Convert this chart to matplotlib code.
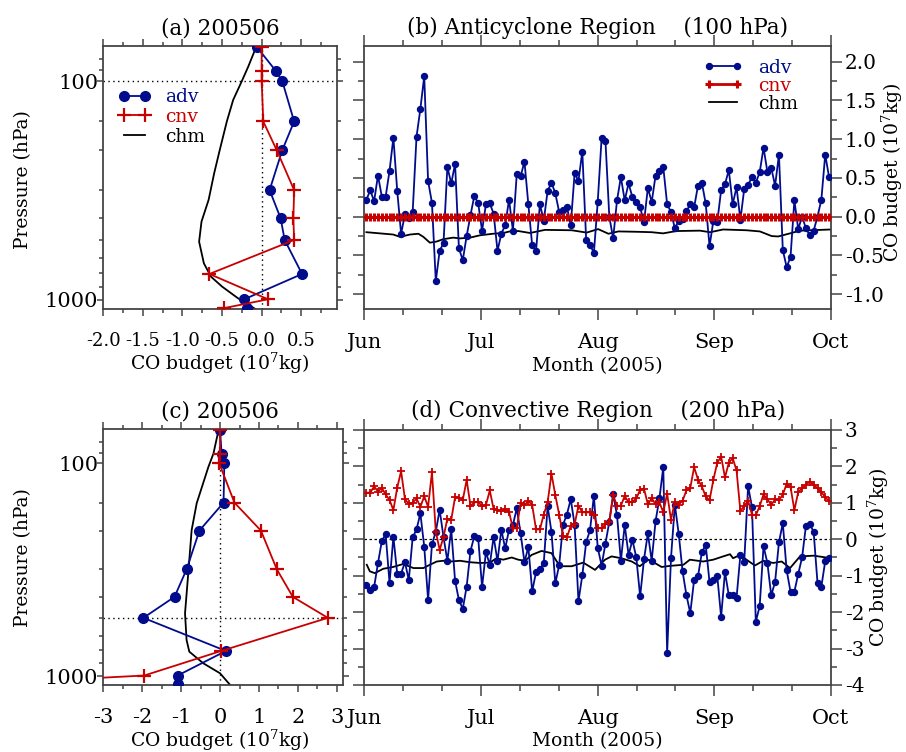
import numpy as np
import matplotlib
matplotlib.use("Agg")
import matplotlib.pyplot as plt
from matplotlib.ticker import FixedLocator, NullFormatter, FormatStrFormatter, MultipleLocator

plt.rcParams["font.family"] = "DejaVu Serif"
plt.rcParams["mathtext.fontset"] = "dejavuserif"
plt.rcParams["mathtext.default"] = "regular"
plt.rcParams["axes.unicode_minus"] = False

BLUE = "#000c8c"
RED = "#c80000"
FRAME = "#444444"

# ---- vertical profiles for June 2005 (pressure in hPa, budget in 10^7 kg)
levels = [70, 90, 100, 153, 207, 315, 424, 532, 761, 993, 1091]
adv_a = [-0.06, 0.18, 0.26, 0.41, 0.26, 0.10, 0.24, 0.29, 0.51, -0.22, -0.19]
cnv_a = [0.0, 0.0, 0.0, 0.02, 0.19, 0.41, 0.40, 0.41, -0.66, 0.08, -0.48]
chm_a_lev = [70, 86, 100, 122, 153, 207, 264, 349, 439, 542, 680, 783, 869, 982, 1100]
chm_a = [-0.07, -0.17, -0.25, -0.36, -0.44, -0.53, -0.60, -0.67, -0.76, -0.79,
         -0.73, -0.64, -0.50, -0.30, -0.08]

adv_c = [0.0, 0.04, 0.11, 0.09, -0.53, -0.86, -1.17, -1.97, 0.15, -1.09, -1.07]
cnv_c = [0.0, 0.0, -0.02, 0.37, 1.05, 1.46, 1.87, 2.77, 0.03, -1.95, -6.3]
chm_c_lev = [70, 90, 104, 154, 206, 317, 507, 676, 767, 870, 969, 1100]
chm_c = [-0.04, -0.17, -0.30, -0.60, -0.73, -0.81, -0.90, -0.86, -0.79, -0.43, 0.0, 0.26]

pressure_minor = [79, 89, 153, 207, 315, 424, 532, 645, 755, 870]

# ---- daily series Jun-Sep 2005
months = ["Jun", "Jul", "Aug", "Sep", "Oct"]

adv_b = [0.22, 0.34, 0.20, 0.53, 0.26, 0.26, 0.59, 1.02, 0.33, -0.22,
         0.03, -0.02, 0.06, 1.03, 1.39, 1.81, 0.46, 0.18, -0.83, -0.44,
         -0.34, 0.64, 0.43, 0.68, -0.41, -0.56, -0.25, 0.02, 0.27, 0.17,
         -0.18, 0.16, 0.17, 0.04, -0.44, -0.22, -0.11, 0.22, -0.18, 0.55,
         0.52, 0.71, 0.16, -0.37, -0.44, 0.16, -0.05, 0.33, 0.44, 0.30,
         0.06, 0.08, 0.13, -0.11, 0.56, 0.46, 0.84, -0.30, -0.36, -0.47,
         0.19, 1.01, 0.98, 0.0, -0.28, 0.21, 0.51, 0.21, 0.43, 0.25,
         0.19, 0.12, -0.07, 0.37, 0.19, 0.53, 0.59, 0.64, 0.16, 0.06,
         -0.15, -0.05, -0.03, 0.07, 0.16, 0.12, 0.40, 0.44, 0.17, -0.38,
         -0.05, -0.07, 0.34, 0.42, 0.60, 0.16, 0.38, -0.04, 0.36, 0.41,
         0.51, 0.44, 0.57, 0.89, 0.58, 0.63, 0.40, 0.80, -0.43, -0.65,
         -0.52, 0.21, -0.16, 0.0, -0.15, -0.24, -0.18, 0.0, 0.22, 0.80,
         0.51]
cnv_b = [0.0] * len(adv_b)
chm_b_day = [0.5, 4.0, 7.5, 9.3, 11.9, 14.1, 15.4, 17.1, 18.9, 20.6, 23.2, 25, 27.6,
             30.2, 33.6, 36.3, 38, 40.2, 43.3, 47.2, 54.2, 58.1, 61.1, 63.8, 66.4,
             71.6, 75.1, 78.1, 81.6, 87.7, 90.4, 93.8, 99.9, 103.4, 106.5, 108.2,
             111.3, 113.9, 122]
chm_b = [-0.20, -0.215, -0.23, -0.26, -0.23, -0.22, -0.26, -0.335, -0.32, -0.29,
         -0.27, -0.28, -0.27, -0.24, -0.22, -0.21, -0.19, -0.185, -0.21, -0.17,
         -0.175, -0.205, -0.16, -0.22, -0.19, -0.195, -0.20, -0.215, -0.185, -0.18,
         -0.20, -0.165, -0.175, -0.19, -0.25, -0.255, -0.215, -0.18, -0.165]

adv_d = [-1.26, -1.38, -1.31, -0.66, -0.05, 0.14, -1.20, 0.07, -0.95, -0.94,
         -0.63, -1.12, 0.05, 0.27, 0.71, -0.20, -1.66, -0.14, 0.21, 0.81,
         0.06, -0.59, 0.28, -1.14, -1.67, -1.91, -1.30, -0.32, 0.09, 0.03,
         -1.31, -0.35, -0.70, 0.07, -0.60, 0.26, -0.25, 0.26, 0.39, 0.85,
         0.16, -0.63, -0.21, -1.43, -0.90, -0.81, -0.66, 0.91, 0.21, -1.21,
         -0.71, 0.40, 0.68, 1.10, 0.40, -1.70, -0.99, -0.08, 0.25, 1.19,
         -0.23, -0.72, -0.12, 0.48, 1.23, 0.66, -0.59, 0.39, -0.43, -0.02,
         -0.50, -1.57, -0.55, 0.16, -0.59, 0.50, 1.12, 1.98, -3.12, -0.52,
         0.95, 0.15, -0.88, -1.53, -2.03, -1.11, -1.02, -0.36, -0.15, -1.18,
         -1.11, -1.00, -2.13, -0.90, -1.54, -1.54, -1.61, -0.43, -0.61, 1.46,
         0.88, -2.26, -1.84, -0.19, -0.65, -1.54, -1.17, -0.08, 0.44, -0.85,
         -1.44, -1.44, -0.95, -0.50, 0.37, 0.42, 0.20, -1.20, -1.30, -0.60,
         -0.52]
cnv_d = [1.28, 1.28, 1.45, 1.31, 1.41, 1.23, 1.08, 0.80, 1.42, 1.87,
         1.10, 0.97, 1.00, 1.12, 0.89, 1.18, 0.89, 1.84, 0.21, -0.29,
         0.06, 0.57, 0.53, 1.16, 1.14, 1.08, 1.63, 0.92, 1.01, 1.03,
         0.90, 0.94, 1.34, 0.83, 0.80, 0.77, 0.83, 0.75, 0.30, 0.30,
         1.00, 0.94, 1.05, 0.94, 0.27, 0.27, 0.68, 1.01, 1.80, 1.21,
         0.68, 0.09, 0.05, 0.37, 0.41, 0.92, 0.74, 0.74, 0.74, 0.68,
         0.32, 0.30, 0.41, 0.48, 1.21, 0.92, 0.92, 1.19, 1.01, 1.03,
         1.12, 1.36, 1.39, 0.96, 1.13, 0.96, 1.01, 0.74, 1.25, 0.54,
         1.03, 0.95, 1.06, 1.34, 1.41, 1.98, 1.64, 1.45, 1.18, 1.07,
         1.64, 2.10, 2.27, 1.70, 2.10, 2.23, 1.89, 0.77, 0.92, 1.06,
         0.68, 0.66, 0.91, 1.23, 1.10, 0.94, 1.10, 1.07, 1.23, 1.52,
         1.44, 0.80, 1.30, 1.40, 1.50, 1.58, 1.50, 1.40, 1.30, 1.15,
         1.05]
chm_d_day = [0.6, 1.4, 2.7, 4.9, 7.5, 10.1, 12.8, 15.4, 17.1, 18.9, 20.6, 22.4, 25,
             27.6, 30.2, 32.8, 34.5, 36.3, 38.5, 40.2, 42, 43.7, 46.3, 48.9, 51.1,
             54.2, 57.2, 60.3, 62.9, 64.6, 67.2, 69.9, 72.0, 74.2, 76.4, 77.7, 79.9,
             83.4, 85.1, 88.6, 91.2, 93.8, 95.6, 96.4, 98.2, 99.9, 102.1, 104.3,
             106.9, 109.1, 111.3, 113.9, 117.5, 122]
chm_d = [-0.70, -0.88, -0.93, -0.81, -0.76, -0.68, -0.79, -0.79, -0.70, -0.61,
         -0.59, -0.61, -0.59, -0.63, -0.65, -0.64, -0.52, -0.56, -0.50, -0.56,
         -0.59, -0.43, -0.32, -0.38, -0.74, -0.74, -0.64, -0.84, -0.56, -0.47,
         -0.52, -0.61, -0.74, -0.56, -0.68, -0.76, -0.73, -0.70, -0.56, -0.61,
         -0.56, -0.47, -0.41, -0.52, -0.43, -0.56, -0.72, -0.59, -0.65, -0.61,
         -0.79, -0.47, -0.45, -0.52]


def frame(ax):
    for sp in ax.spines.values():
        sp.set_color(FRAME)
        sp.set_linewidth(1.3)


def profile_panel(ax, adv, cnv, chm_lev, chm, xlim, xmajor, xminor, fmt, ref_level,
                  xsize, xpad):
    ax.axvline(0, color="k", lw=1.0, ls=(0, (1, 2.5)), zorder=1)
    ax.axhline(ref_level, color="k", lw=1.0, ls=(0, (1, 2.5)), zorder=1)
    l_chm, = ax.plot(chm, chm_lev, color="k", lw=1.3, label="chm", zorder=2)
    l_adv, = ax.plot(adv, levels, color=BLUE, lw=1.3, marker="o", ms=7, label="adv", zorder=3)
    l_cnv, = ax.plot(cnv, levels, color=RED, lw=1.3, marker="+", ms=10, mew=1.6,
                     label="cnv", zorder=4)
    ax.set_yscale("log")
    ax.set_ylim(1100, 69.2)
    ax.set_xlim(*xlim)
    ax.yaxis.set_major_locator(FixedLocator([100, 1000]))
    ax.yaxis.set_major_formatter(FormatStrFormatter("%d"))
    ax.yaxis.set_minor_locator(FixedLocator(pressure_minor))
    ax.yaxis.set_minor_formatter(NullFormatter())
    ax.xaxis.set_major_locator(MultipleLocator(xmajor))
    ax.xaxis.set_minor_locator(MultipleLocator(xminor))
    ax.xaxis.set_major_formatter(FormatStrFormatter(fmt))
    ax.tick_params(which="both", direction="out", top=True, right=True,
                   color=FRAME, width=1.1, labelsize=15)
    ax.tick_params(axis="x", which="major", length=5.3, pad=xpad, labelsize=xsize)
    ax.tick_params(axis="x", which="minor", length=3)
    ax.tick_params(axis="y", which="major", length=4, pad=-0.5)
    ax.tick_params(axis="y", which="minor", length=3)
    frame(ax)
    return l_adv, l_cnv, l_chm


def series_panel(ax, adv, cnv, chm_day, chm, ylim, ymajor, yminor, fmt,
                 cnv_ms, cnv_mew, cnv_lw):
    days = np.linspace(0.5, 121.5, len(adv))
    l_chm, = ax.plot(chm_day, chm, color="k", lw=1.3, label="chm", zorder=2)
    l_adv, = ax.plot(days, adv, color=BLUE, lw=1.3, marker="o", ms=4.3, label="adv", zorder=3)
    l_cnv, = ax.plot(days, cnv, color=RED, lw=cnv_lw, marker="+", ms=cnv_ms, mew=cnv_mew,
                     label="cnv", zorder=4)
    ax.set_xlim(0, 122)
    ax.set_ylim(*ylim)
    ax.xaxis.set_major_locator(FixedLocator(np.linspace(0, 122, 5)))
    ax.xaxis.set_minor_locator(FixedLocator(np.linspace(0, 122, 13)))
    ax.set_xticklabels(months)
    ax.yaxis.set_major_locator(MultipleLocator(ymajor))
    ax.yaxis.set_minor_locator(MultipleLocator(yminor))
    ax.yaxis.set_major_formatter(FormatStrFormatter(fmt))
    ax.tick_params(which="both", direction="out", top=True, right=True, left=True,
                   labelleft=False, labelright=True, color=FRAME, width=1.1, labelsize=15)
    ax.tick_params(which="major", length=8)
    ax.tick_params(which="minor", length=4)
    ax.tick_params(axis="x", which="major", pad=9)
    ax.tick_params(axis="y", which="major", pad=2, labelsize=14.5)
    frame(ax)
    return l_adv, l_cnv, l_chm


fig = plt.figure(figsize=(9.06, 7.52), dpi=100)
ax_a = fig.add_axes([0.1140, 0.5891, 0.2576, 0.3497])
ax_b = fig.add_axes([0.4023, 0.5891, 0.5149, 0.3497])
ax_c = fig.add_axes([0.1140, 0.0891, 0.2642, 0.3400])
ax_d = fig.add_axes([0.4023, 0.0891, 0.5149, 0.3391])

h = profile_panel(ax_a, adv_a, cnv_a, chm_a_lev, chm_a, (-2.0, 0.947), 0.5, 0.25, "%.1f",
                  100, 13, 11)
ax_a.legend(h, ["adv", "cnv", "chm"], loc="upper left", bbox_to_anchor=(0.063, 0.84),
            fontsize=13.5, numpoints=2, handlelength=1.75, handletextpad=0.75,
            labelspacing=0.1, frameon=False, borderpad=0, borderaxespad=0,
            labelcolor="linecolor")
profile_panel(ax_c, adv_c, cnv_c, chm_c_lev, chm_c, (-3, 3.15), 1, 0.5, "%d", 532, 15, 11.5)

h = series_panel(ax_b, adv_b, cnv_b, chm_b_day, chm_b, (-1.19, 2.2), 0.5, 0.25, "%.1f",
                 6, 2.2, 2.0)
ax_b.legend(h, ["adv", "cnv", "chm"], loc="upper left", bbox_to_anchor=(0.7256, 0.9506),
            fontsize=13.5, numpoints=2, handlelength=2.1, handletextpad=0.85,
            labelspacing=0.0, frameon=False, borderpad=0, borderaxespad=0,
            labelcolor="linecolor")
ax_d.axhline(0, color="k", lw=0.9, ls=(0, (2, 2)), zorder=1)
series_panel(ax_d, adv_d, cnv_d, chm_d_day, chm_d, (-4, 3), 1, 0.5, "%d", 6, 1.3, 1.3)
ax_d.get_yticklabels()[-1].set_va("top")

# titles and axis labels
ax_a.text(0.5, 1.067, "(a) 200506", transform=ax_a.transAxes, ha="center", va="center", fontsize=15.5)
ax_b.text(0.5, 1.070, "(b) Anticyclone Region    (100 hPa)", transform=ax_b.transAxes,
          ha="center", va="center", fontsize=15.5)
ax_c.text(0.4875, 1.069, "(c) 200506", transform=ax_c.transAxes, ha="center", va="center", fontsize=15.5)
ax_d.text(0.5, 1.0745, "(d) Convective Region    (200 hPa)", transform=ax_d.transAxes,
          ha="center", va="center", fontsize=15.5)

xlab = "CO budget (10$^7$kg)"
ax_a.text(0.5, -0.206, xlab, transform=ax_a.transAxes, ha="center", va="center", fontsize=13.5)
ax_c.text(0.4875, -0.218, xlab, transform=ax_c.transAxes, ha="center", va="center", fontsize=13.5)
ax_b.text(0.5, -0.216, "Month (2005)", transform=ax_b.transAxes, ha="center", va="center", fontsize=13.5)
ax_d.text(0.5, -0.2196, "Month (2005)", transform=ax_d.transAxes, ha="center", va="center", fontsize=13.5)
ax_a.text(-0.344, 0.494, "Pressure (hPa)", transform=ax_a.transAxes, rotation=90,
          ha="center", va="center", fontsize=13.5)
ax_c.text(-0.3354, 0.4987, "Pressure (hPa)", transform=ax_c.transAxes, rotation=90,
          ha="center", va="center", fontsize=13.5)
ax_b.text(1.1307, 0.519, xlab, transform=ax_b.transAxes, rotation=90,
          ha="center", va="center", fontsize=13.5)
ax_d.text(1.1007, 0.5, xlab, transform=ax_d.transAxes, rotation=90,
          ha="center", va="center", fontsize=13.5)

fig.savefig("out.png", dpi=100)
